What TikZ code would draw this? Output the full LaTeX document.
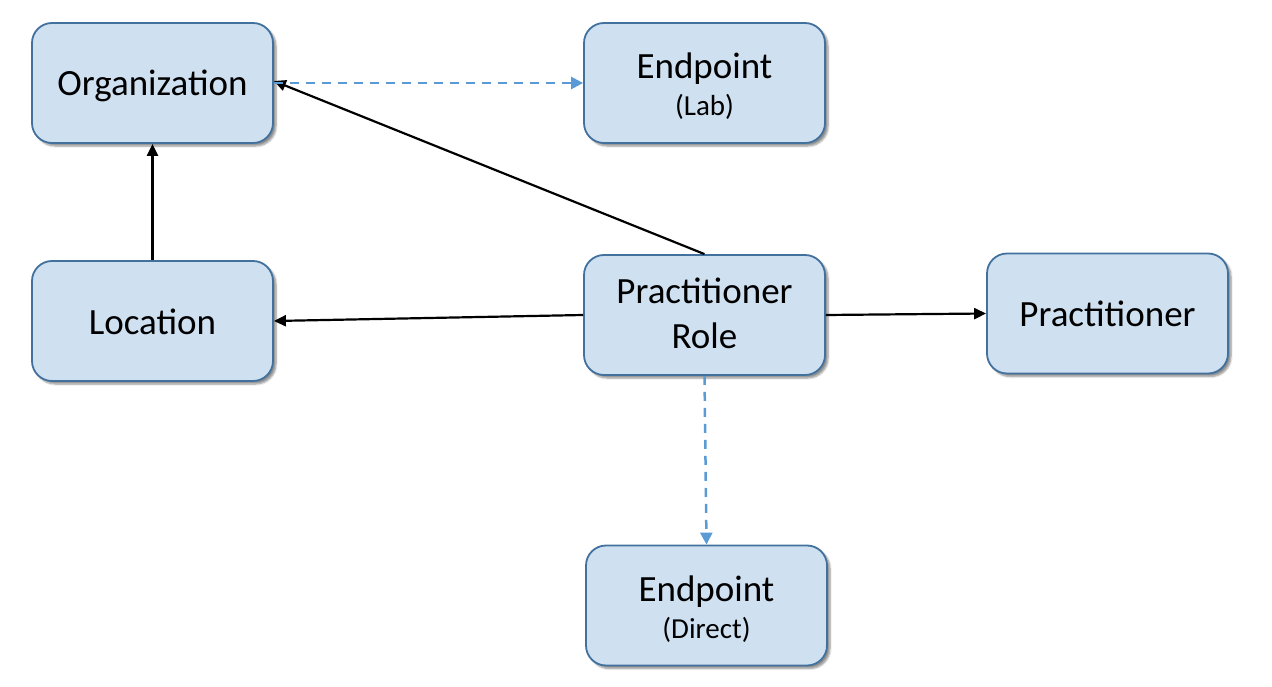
\documentclass[tikz,border=0pt]{standalone}
\usepackage{fontspec}
\setmainfont{Carlito}
\usetikzlibrary{arrows.meta,shadows.blur}
\definecolor{boxfill}{HTML}{CFE0F1}
\definecolor{boxline}{HTML}{41719C}
\definecolor{dashblue}{HTML}{5B9BD5}
\tikzset{
  box/.style={draw=boxline, line width=1.8pt, fill=boxfill, rounded corners=20pt,
    minimum width=241pt, minimum height=120pt, inner sep=0pt, align=center,
    font=\fontsize{37pt}{45pt}\selectfont,
    blur shadow={shadow xshift=3pt, shadow yshift=-3pt, shadow blur steps=6, shadow opacity=45}},
  solidarrow/.style={draw=black, line width=2.2pt, -{Triangle[length=12pt,width=11pt]}},
  dasharrow/.style={draw=dashblue, line width=2.5pt, dash pattern=on 9pt off 7pt, -{Triangle[length=12pt,width=12pt]}}
}
\newcommand{\smalltxt}[1]{{\fontsize{29pt}{32pt}\selectfont #1}}
\newcommand{\oneline}[1]{\rule[-8pt]{0pt}{42pt}#1}
\newcommand{\topstrut}[1]{\rule{0pt}{#1}}
\newcommand{\botstrut}[1]{\rule[-#1]{0pt}{#1}}
\begin{document}
\begin{tikzpicture}[x=1pt,y=-1pt]
\useasboundingbox (0,0) rectangle (1272,687);
\node[box] (org) at (152.5,83) {\oneline{Organization}};
\node[box] (epl) at (704.5,83) {\topstrut{36pt}Endpoint\\[-8pt]\smalltxt{(Lab)}\botstrut{8pt}};
\node[box] (loc) at (152.5,321) {\oneline{Location}};
\node[box] (pr) at (704.5,315) {\topstrut{34pt}Practitioner\\Role\botstrut{13pt}};
\node[box] (pra) at (1107.5,313.5) {\oneline{Practitioner}};
\node[box] (epd) at (706.5,605.5) {\topstrut{36pt}Endpoint\\[-8pt]\smalltxt{(Direct)}\botstrut{8pt}};
\draw[solidarrow] (loc.north) -- (org.south);
\draw[solidarrow] (pr.north) -- ([yshift=2pt]org.east);
\draw[solidarrow] (pr.west) -- (loc.east);
\draw[solidarrow] (pr.east) -- (pra.west);
\draw[dasharrow] (org.east) -- (epl.west);
\draw[dasharrow] (pr.south) -- (epd.north);
\end{tikzpicture}
\end{document}
